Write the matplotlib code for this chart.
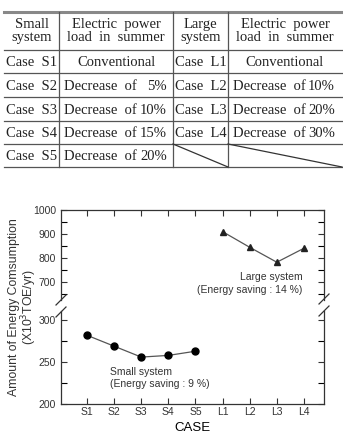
import matplotlib
matplotlib.use('Agg')
import matplotlib.pyplot as plt
from matplotlib.ticker import MultipleLocator

# datos de la tabla
header = ['Small\nsystem', 'Electric  power\nload  in  summer', 'Large\nsystem', 'Electric  power\nload  in  summer']
small_cases = ['Case  S1', 'Case  S2', 'Case  S3', 'Case  S4', 'Case  S5']
small_load = ['Conventional', '5%', '10%', '15%', '20%']
large_cases = ['Case  L1', 'Case  L2', 'Case  L3', 'Case  L4']
large_load = ['Conventional', '10%', '20%', '30%']

# datos de la grafica
case_labels = ['S1', 'S2', 'S3', 'S4', 'S5', 'L1', 'L2', 'L3', 'L4']
small_x = [1, 2, 3, 4, 5]
small_vals = [282, 269, 256, 258, 263]
large_x = [6, 7, 8, 9]
large_vals = [910, 845, 783, 841]

W, H = 343, 436
fig = plt.figure(figsize=(W / 100, H / 100), dpi=100)
plt.rcParams['font.family'] = ['Liberation Sans', 'DejaVu Sans']

def fx(px):
    return px / W

def fy(py):
    return 1 - py / H

left, right = 61, 324
ax_up = fig.add_axes([fx(left), fy(300), (right - left) / W, (300 - 210) / H])
ax_lo = fig.add_axes([fx(left), fy(404), (right - left) / W, (404 - 311) / H])

# parte superior (sistema grande)
ax_up.plot(large_x, large_vals, '-', color='#555555', lw=0.9, zorder=2)
ax_up.plot(large_x, large_vals, '^', color='#222222', ms=5, zorder=3)
ax_up.set_ylim(626, 1000)
ax_up.yaxis.set_minor_locator(MultipleLocator(50))
ax_up.set_yticks([700, 800, 900, 1000])
ax_up.spines['bottom'].set_visible(False)
ax_up.tick_params(axis='x', which='both', bottom=False, labelbottom=False, top=True, direction='in', length=4)
ax_up.text(8.95, 694, 'Large system\n(Energy saving : 14 %)', ha='right', va='center',
           fontsize=7.5, color='#333333', linespacing=1.3)

# parte inferior (sistema pequeno)
ax_lo.plot(small_x, small_vals, '-', color='#555555', lw=0.9, zorder=2)
ax_lo.plot(small_x, small_vals, 'o', color='black', ms=5, zorder=3)
ax_lo.set_ylim(200, 311)
ax_lo.set_yticks([200, 250, 300])
ax_lo.yaxis.set_minor_locator(MultipleLocator(25))
ax_lo.spines['top'].set_visible(False)
ax_lo.tick_params(axis='x', which='both', top=False, direction='in', length=4)
ax_lo.text(1.85, 231, 'Small system\n(Energy saving : 9 %)', ha='left', va='center',
           fontsize=7.5, color='#333333', linespacing=1.3)
ax_lo.set_xlabel('CASE', fontsize=9.5, labelpad=4)

for ax in (ax_up, ax_lo):
    ax.set_xlim(0.04, 9.74)
    ax.set_xticks(range(1, 10))
    ax.set_xticklabels(case_labels)
    ax.tick_params(axis='y', which='both', left=True, right=True, direction='in', length=4, width=0.8)
    ax.tick_params(axis='x', width=0.8, pad=2)
    ax.tick_params(labelsize=7.5, colors='#333333')
    for s in ax.spines.values():
        s.set_color('#333333')
        s.set_linewidth(0.9)
    ax.patch.set_visible(False)

fig.text(fx(14), fy(307), 'Amount of Energy Comsumption', rotation=90, ha='center', va='center',
         fontsize=8.8, color='#333333')
fig.text(fx(29), fy(307), '(X10$^3$TOE/yr)', rotation=90, ha='center', va='center',
         fontsize=8.8, color='#333333')

# capa para la tabla y las marcas de corte
ov = fig.add_axes([0, 0, 1, 1])
ov.set_xlim(0, W)
ov.set_ylim(H, 0)
ov.axis('off')
ov.set_zorder(5)

for (x0, y0, x1, y1) in [(56, 305, 66, 295), (56, 317, 66, 307), (319, 304, 329, 294), (319, 316, 329, 306)]:
    ov.plot([x0, x1], [y0, y1], color='#333333', lw=0.9)

serif = ['Liberation Serif', 'DejaVu Serif']
tc = '#222222'
rows_y = [12, 50, 73, 97, 121, 144, 167]
cols_x = [4, 59, 173, 228, 342]

ov.plot([4, 342], [12, 12], color='#888888', lw=2.2)
for yy in rows_y[1:]:
    ov.plot([4, 342], [yy, yy], color='#555555', lw=0.9)
for xx in cols_x[1:-1]:
    ov.plot([xx, xx], [12, 167], color='#555555', lw=0.9)
ov.plot([173, 228], [144, 167], color='#333333', lw=0.9)
ov.plot([228, 342], [144, 167], color='#333333', lw=0.9)

col_c = [31.5, 116, 200.5, 285]
for i, h in enumerate(header):
    ov.text(col_c[i], 31, h, ha='center', va='center', fontsize=10.5, family=serif,
            color=tc, linespacing=1.0)

row_c = [(rows_y[k] + rows_y[k + 1]) / 2 + 1 for k in range(1, 6)]
for k, c in enumerate(small_cases):
    ov.text(col_c[0], row_c[k], c, ha='center', va='center', fontsize=10.5, family=serif, color=tc)
    if k == 0:
        ov.text(col_c[1], row_c[k], small_load[k], ha='center', va='center', fontsize=10.5, family=serif, color=tc)
    else:
        ov.text(64, row_c[k], 'Decrease  of', ha='left', va='center', fontsize=10.5, family=serif, color=tc)
        ov.text(167, row_c[k], small_load[k], ha='right', va='center', fontsize=10.5, family=serif, color=tc)
for k, c in enumerate(large_cases):
    ov.text(col_c[2], row_c[k], c, ha='center', va='center', fontsize=10.5, family=serif, color=tc)
    if k == 0:
        ov.text(col_c[3], row_c[k], large_load[k], ha='center', va='center', fontsize=10.5, family=serif, color=tc)
    else:
        ov.text(233, row_c[k], 'Decrease  of', ha='left', va='center', fontsize=10.5, family=serif, color=tc)
        ov.text(335, row_c[k], large_load[k], ha='right', va='center', fontsize=10.5, family=serif, color=tc)

fig.savefig('out.png', dpi=100)
